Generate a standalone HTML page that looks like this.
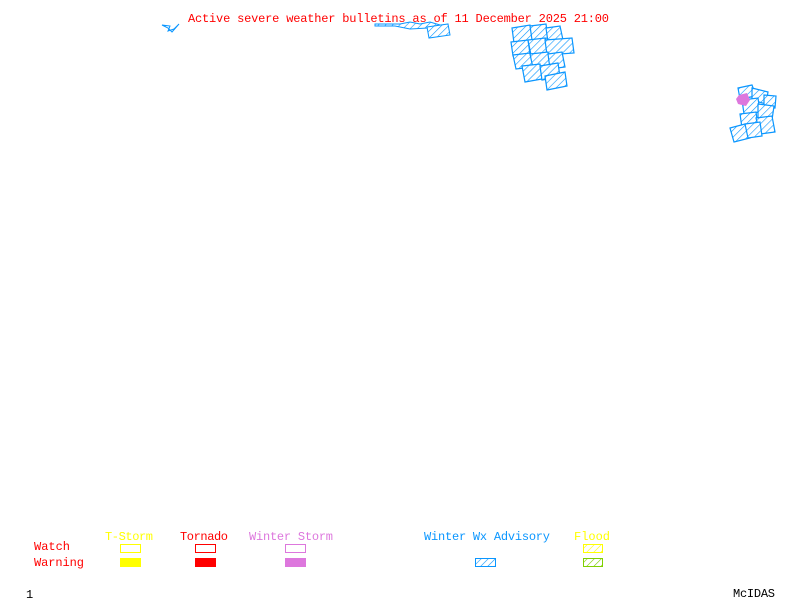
<!DOCTYPE html>
<html><head><meta charset="utf-8"><style>
html,body{margin:0;padding:0;background:#fff;width:800px;height:600px;overflow:hidden}
svg text{font-family:"Liberation Mono",monospace;font-size:12px}
</style></head><body>
<svg width="800" height="600" xmlns="http://www.w3.org/2000/svg">
<defs>
<pattern id="hb" width="5" height="5" patternUnits="userSpaceOnUse" patternTransform="rotate(45)">
<rect width="5" height="5" fill="#fff"/><line x1="0" y1="0" x2="0" y2="5" stroke="#0a96ff" stroke-width="1.2"/></pattern>
<pattern id="hy" width="5" height="5" patternUnits="userSpaceOnUse" patternTransform="rotate(45)">
<rect width="5" height="5" fill="#fff"/><line x1="0" y1="0" x2="0" y2="5" stroke="#ffff00" stroke-width="1.2"/></pattern>
<pattern id="hg" width="5" height="5" patternUnits="userSpaceOnUse" patternTransform="rotate(45)">
<rect width="5" height="5" fill="#fff"/><line x1="0" y1="0" x2="0" y2="5" stroke="#7fd000" stroke-width="1.2"/></pattern>
</defs>
<text x="188" y="22" fill="#ff0000" textLength="421">Active severe weather bulletins as of 11 December 2025 21:00</text>
<!-- top left bit -->
<path d="M162 25 L170 26 L168 31 L174 29 L179 24 L172 32 L168 28 Z" fill="url(#hb)" stroke="#0a96ff"/>
<path d="M375 24 L400 24 L410 22 L420 24 L430 22 L440 25 L428 28 L410 29 L395 26 L375 26Z" fill="url(#hb)" stroke="#0a96ff"/>
<path d="M427 27 L448 24 L450 35 L429 38 Z" fill="url(#hb)" stroke="#0a96ff"/>
<!-- main cluster -->
<g fill="url(#hb)" stroke="#0a96ff" stroke-width="1.2">
<path d="M512 28 L530 25 L533 40 L514 43Z"/>
<path d="M530 26 L546 24 L548 38 L532 40Z"/>
<path d="M546 28 L560 26 L563 40 L548 42Z"/>
<path d="M511 42 L528 40 L530 54 L513 56Z"/>
<path d="M528 40 L545 38 L548 52 L531 55Z"/>
<path d="M545 40 L572 38 L574 53 L547 55Z"/>
<path d="M513 55 L530 53 L533 67 L516 69Z"/>
<path d="M530 54 L548 52 L550 66 L533 68Z"/>
<path d="M548 54 L562 52 L565 67 L550 69Z"/>
<path d="M522 66 L540 64 L542 79 L525 82Z"/>
<path d="M540 66 L558 63 L560 77 L542 80Z"/>
<path d="M545 76 L565 72 L567 86 L547 90Z"/>
</g>
<!-- right cluster -->
<g fill="url(#hb)" stroke="#0a96ff" stroke-width="1.2">
<path d="M738 88 L752 85 L756 96 L740 99Z"/>
<path d="M752 88 L768 92 L766 104 L752 100Z"/>
<path d="M764 95 L776 96 L775 108 L764 108Z"/>
<path d="M742 100 L758 98 L760 112 L744 114Z"/>
<path d="M758 104 L774 106 L772 120 L758 118Z"/>
<path d="M740 114 L756 112 L758 126 L742 128Z"/>
<path d="M756 118 L772 116 L775 132 L760 134Z"/>
<path d="M730 128 L745 124 L750 138 L734 142Z"/>
<path d="M745 124 L760 122 L762 136 L748 138Z"/>
</g>
<path d="M739 95 L747 93 L750 100 L746 106 L738 104 L736 99Z" fill="#dd77dd"/>
<!-- legend -->
<text x="105" y="540" fill="#ffff00" textLength="48">T-Storm</text>
<text x="180" y="540" fill="#ff0000" textLength="48">Tornado</text>
<text x="249" y="540" fill="#dd77dd" textLength="84">Winter Storm</text>
<text x="424" y="540" fill="#0a96ff" textLength="126">Winter Wx Advisory</text>
<text x="574" y="540" fill="#ffff00" textLength="36">Flood</text>
<text x="34" y="550" fill="#ff0000" textLength="36">Watch</text>
<text x="34" y="566" fill="#ff0000" textLength="50">Warning</text>
<rect x="120.5" y="544.5" width="20" height="8" fill="none" stroke="#ffff00"/>
<rect x="195.5" y="544.5" width="20" height="8" fill="none" stroke="#ff0000"/>
<rect x="285.5" y="544.5" width="20" height="8" fill="none" stroke="#dd77dd"/>
<rect x="583.5" y="544.5" width="19" height="8" fill="url(#hy)" stroke="#ffff00"/>
<rect x="120" y="558" width="21" height="9" fill="#ffff00"/>
<rect x="195" y="558" width="21" height="9" fill="#ff0000"/>
<rect x="285" y="558" width="21" height="9" fill="#dd77dd"/>
<rect x="475.5" y="558.5" width="20" height="8" fill="url(#hb)" stroke="#0a96ff"/>
<rect x="583.5" y="558.5" width="19" height="8" fill="url(#hg)" stroke="#7fd000"/>
<text x="26" y="598" fill="#000">1</text>
<text x="733" y="597" fill="#000" textLength="42">McIDAS</text>
</svg>
</body></html>
